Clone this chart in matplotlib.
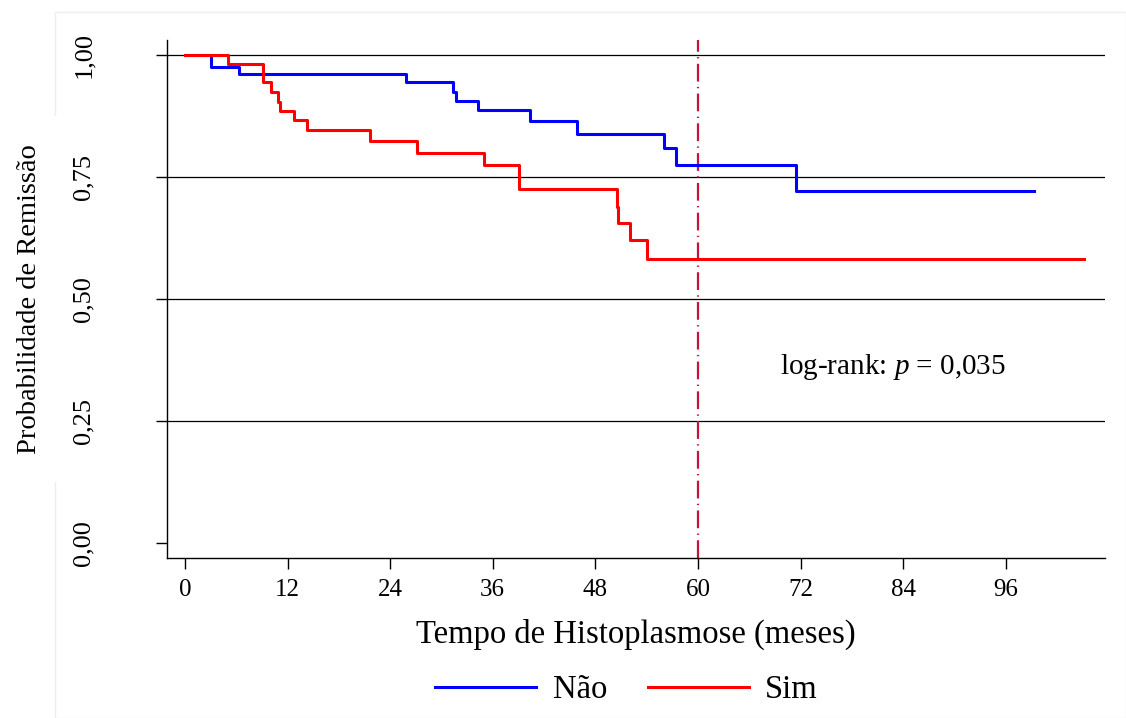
#!/usr/bin/env python3
"""Kaplan-Meier: probabilidade de remissao por grupo."""

import matplotlib
matplotlib.use("Agg")
import matplotlib.pyplot as plt
from matplotlib.lines import Line2D
from matplotlib.patches import Rectangle

# Curva "Nao": tempos dos eventos (meses) e sobrevida apos cada degrau
nao_t = [0, 3.0, 6.3, 25.8, 31.4, 31.7, 34.3, 40.4, 45.8, 56.0, 57.4, 71.5, 99.3]
nao_s = [1.0, 0.975, 0.962, 0.945, 0.925, 0.906, 0.887, 0.864, 0.838, 0.809, 0.775, 0.721, 0.721]

# Curva "Sim"
sim_t = [0, 5.0, 9.1, 10.1, 10.9, 11.1, 12.7, 14.3, 21.6, 27.1, 35.0, 39.1,
         50.5, 50.6, 52.1, 54.0, 105.2]
sim_s = [1.0, 0.982, 0.944, 0.925, 0.904, 0.886, 0.866, 0.846, 0.824, 0.800,
         0.775, 0.725, 0.689, 0.656, 0.621, 0.581, 0.581]

x_ticks = [0, 12, 24, 36, 48, 60, 72, 84, 96]
y_ticks = [0.0, 0.25, 0.5, 0.75, 1.0]
y_labels = ["0,00", "0,25", "0,50", "0,75", "1,00"]
corte = 60
p_texto = "log-rank: $p$ = 0,035"

plt.rcParams["font.family"] = ["Liberation Serif", "DejaVu Serif"]
plt.rcParams["mathtext.fontset"] = "custom"
plt.rcParams["mathtext.it"] = "Liberation Serif:italic"
plt.rcParams["mathtext.rm"] = "Liberation Serif"

fig = plt.figure(figsize=(11.26, 7.18), dpi=100)
ax = fig.add_axes([0.1483, 0.2228, 0.833, 0.7215])

# moldura clara do painel (atras dos eixos)
fig.patches.append(Rectangle((55 / 1126, 0), 1 - 55 / 1126, 1 - 12 / 718,
                             transform=fig.transFigure, fill=False,
                             edgecolor="#eeeeee", linewidth=1.0, zorder=-5))

for yv in y_ticks[1:]:
    ax.axhline(yv, color="black", linewidth=0.9, zorder=1)

ax.axvline(corte, color="#c8143c", linewidth=1.6, linestyle=(0, (8, 2.4, 0.6, 2.4)), zorder=2)

ax.step(nao_t, nao_s, where="post", color="#0000ff", linewidth=2.2, zorder=3)
ax.step(sim_t, sim_s, where="post", color="#ff0000", linewidth=2.2, zorder=3)

ax.text(69.6, 0.36, p_texto, fontsize=21, va="center", ha="left")

ax.set_xlim(-2.1, 107.6)
ax.set_ylim(-0.031, 1.031)
ax.set_xticks(x_ticks)
ax.set_yticks(y_ticks)
ax.set_yticklabels(y_labels, rotation=90, va="center")
ax.tick_params(axis="both", direction="out", length=8, width=1, labelsize=18, pad=7)
ax.tick_params(axis="y", labelsize=19, pad=44)

for side in ["top", "right"]:
    ax.spines[side].set_visible(False)
for side in ["left", "bottom"]:
    ax.spines[side].set_linewidth(1.0)

ax.set_xlabel("Tempo de Histoplasmose (meses)", fontsize=23.5, labelpad=13)
ax.set_ylabel("Probabilidade de Remissão", fontsize=20.5, labelpad=22,
              bbox=dict(facecolor="white", edgecolor="none", pad=20))

handles = [Line2D([], [], color="#0000ff", linewidth=2.2),
           Line2D([], [], color="#ff0000", linewidth=2.2)]
fig.legend(handles, ["Não", "Sim"], loc="center", bbox_to_anchor=(0.5564, 0.039),
           ncol=2, frameon=False, fontsize=23.5, handlelength=3.1,
           columnspacing=1.25, handletextpad=0.5)

fig.savefig("out.png", dpi=100, facecolor="white")
